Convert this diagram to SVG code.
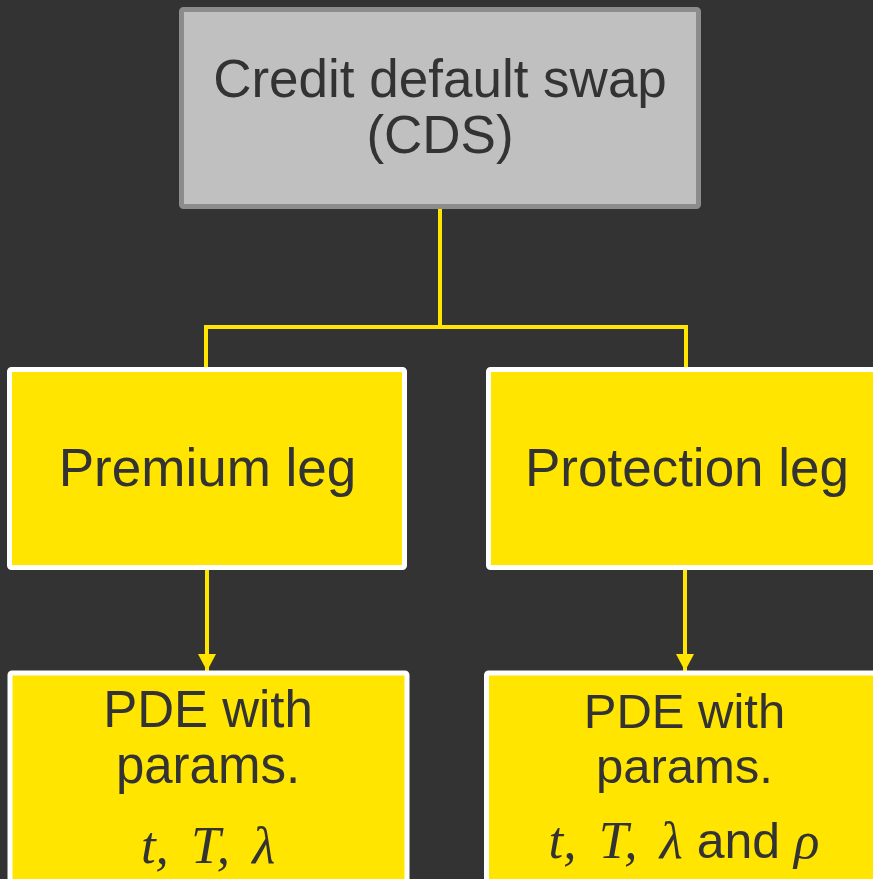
<svg xmlns="http://www.w3.org/2000/svg" width="873" height="879" viewBox="0 0 873 879">
<defs>
<style>
.bg{fill:#333333}
.lbl{font-family:"Liberation Sans",Arial,sans-serif;fill:#333333;text-anchor:middle}
.math{font-family:"Liberation Serif","Times New Roman",serif;font-style:italic}
.ybox{fill:#FFE500;stroke:#FFFFFF;stroke-width:5}
.gbox{fill:#C0C0C0;stroke:#8C8C8C;stroke-width:5}
.conn{fill:none;stroke:#FFE500;stroke-width:4}
</style>
<marker id="arr" markerUnits="userSpaceOnUse" markerWidth="20" markerHeight="18" refX="17" refY="9" orient="auto">
<path d="M0,0 L17,9 L0,18 Z" fill="#FFE500"/>
</marker>
</defs>
<rect class="bg" x="0" y="0" width="873" height="879"/>
<g id="connectors">
<path class="conn" d="M440,209 V327 M206,367 V327 H686 V367"/>
<path class="conn" d="M207,570 V671" marker-end="url(#arr)"/>
<path class="conn" d="M685,570 V671" marker-end="url(#arr)"/>
</g>
<g id="cds">
<rect class="gbox" x="181.5" y="9.5" width="517" height="197" rx="2"/>
<text class="lbl" x="440" y="97" font-size="53">Credit default swap</text>
<text class="lbl" x="440" y="153" font-size="53">(CDS)</text>
</g>
<g id="premium">
<rect class="ybox" x="9.5" y="369.5" width="395" height="198" rx="2"/>
<text class="lbl" x="207.5" y="486" font-size="53">Premium leg</text>
</g>
<g id="protection">
<rect class="ybox" x="488.5" y="369.5" width="395" height="198" rx="2"/>
<text class="lbl" x="687" y="486" font-size="53">Protection leg</text>
</g>
<g id="pde-premium">
<rect class="ybox" x="10" y="673" width="397" height="220" rx="2"/>
<text class="lbl" x="208" y="727" font-size="51">PDE with</text>
<text class="lbl" x="208" y="783" font-size="51">params.</text>
<text class="lbl math" x="208" y="863" font-size="53" word-spacing="9">t, T, λ</text>
</g>
<g id="pde-protection">
<rect class="ybox" x="486.5" y="673" width="397" height="220" rx="2"/>
<text class="lbl" x="684.5" y="728" font-size="49">PDE with</text>
<text class="lbl" x="684.5" y="783" font-size="49">params.</text>
<text class="lbl" x="684" y="858" font-size="50"><tspan class="math" font-size="53" word-spacing="9">t, T, λ</tspan> and <tspan class="math" font-size="53">ρ</tspan></text>
</g>
</svg>
